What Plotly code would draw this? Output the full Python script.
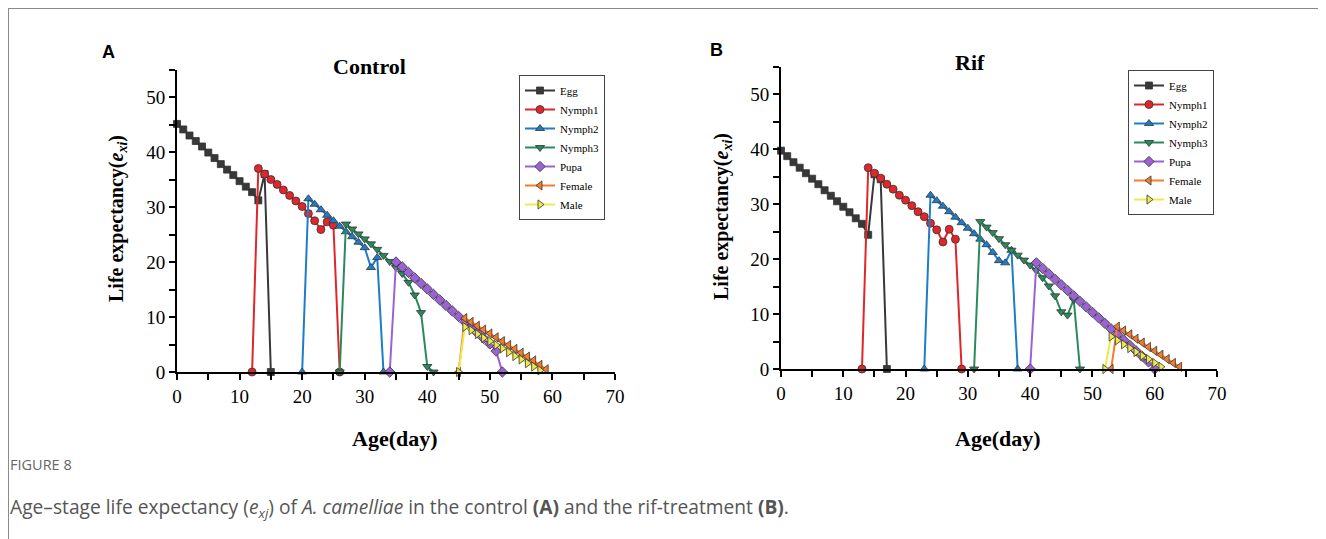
import plotly.graph_objects as go

# ---------------- data (Age in days, life expectancy e_xj) ----------------
stages = ["Egg", "Nymph1", "Nymph2", "Nymph3", "Pupa", "Female", "Male"]

# Panel A: Control
egg_days_A = [0, 1, 2, 3, 4, 5, 6, 7, 8, 9, 10, 11, 12, 13, 14, 15]
egg_A = [45.1, 44.1, 43.0, 42.0, 41.0, 39.9, 38.9, 37.8, 36.8, 35.8, 34.7, 33.7, 32.7, 31.2, 36.0, 0]
n1_days_A = [12, 13, 14, 15, 16, 17, 18, 19, 20, 21, 22, 23, 24, 25, 26]
n1_A = [0, 37.0, 36.0, 35.0, 34.1, 33.1, 32.1, 31.1, 30.1, 28.8, 27.5, 25.9, 27.3, 26.7, 0]
n2_days_A = [20, 21, 22, 23, 24, 25, 26, 27, 28, 29, 30, 31, 32, 33]
n2_A = [0, 31.5, 30.5, 29.5, 28.5, 27.5, 26.5, 25.5, 24.6, 23.6, 22.6, 19.0, 20.8, 0]
n3_days_A = [26, 27, 28, 29, 30, 31, 32, 33, 34, 35, 36, 37, 38, 39, 40, 41]
n3_A = [0, 26.9, 26.0, 25.1, 24.2, 23.3, 22.3, 21.2, 20.1, 19.0, 17.9, 16.3, 14.0, 10.8, 1.0, 0]
pupa_days_A = [34, 35, 36, 37, 38, 39, 40, 41, 42, 43, 44, 45, 46, 47, 48, 49, 50, 51, 52]
pupa_A = [0, 20.0, 19.1, 18.1, 17.1, 16.1, 15.1, 14.1, 13.1, 12.1, 11.1, 10.1, 9.1, 8.1, 7.1, 6.1, 5.1, 3.8, 0]
fem_days_A = [45, 46, 47, 48, 49, 50, 51, 52, 53, 54, 55, 56, 57, 58, 59]
fem_A = [0, 9.8, 9.1, 8.4, 7.7, 7.0, 6.3, 5.6, 4.9, 4.2, 3.5, 2.8, 2.1, 1.3, 0.5]
male_days_A = [45, 46, 47, 48, 49, 50, 51, 52, 53, 54, 55, 56, 57, 58]
male_A = [0, 8.2, 7.6, 6.9, 6.2, 5.6, 4.9, 4.3, 3.6, 2.9, 2.3, 1.6, 1.0, 0.3]

# Panel B: Rif
egg_days_B = [0, 1, 2, 3, 4, 5, 6, 7, 8, 9, 10, 11, 12, 13, 14, 15, 16, 17]
egg_B = [39.7, 38.7, 37.6, 36.6, 35.6, 34.6, 33.6, 32.5, 31.5, 30.5, 29.5, 28.5, 27.4, 26.4, 24.4, 35.4, 34.5, 0]
n1_days_B = [13, 14, 15, 16, 17, 18, 19, 20, 21, 22, 23, 24, 25, 26, 27, 28, 29]
n1_B = [0, 36.6, 35.6, 34.7, 33.6, 32.7, 31.6, 30.7, 29.7, 28.6, 27.7, 26.5, 25.3, 23.1, 25.4, 23.6, 0]
n2_days_B = [23, 24, 25, 26, 27, 28, 29, 30, 31, 32, 33, 34, 35, 36, 37, 38]
n2_B = [0, 31.6, 30.6, 29.6, 28.6, 27.6, 26.6, 25.6, 24.6, 23.6, 22.6, 21.2, 19.7, 19.3, 21.6, 0]
n3_days_B = [31, 32, 33, 34, 35, 36, 37, 38, 39, 40, 41, 42, 43, 44, 45, 46, 47, 48]
n3_B = [0, 26.8, 25.8, 24.8, 23.7, 22.6, 21.6, 20.7, 19.8, 18.9, 17.9, 16.6, 15.1, 13.3, 10.4, 9.8, 12.6, 0]
pupa_days_B = [40, 41, 42, 43, 44, 45, 46, 47, 48, 49, 50, 51, 52, 53, 54, 55, 56, 57, 58, 59, 60]
pupa_B = [0, 19.3, 18.3, 17.3, 16.3, 15.3, 14.3, 13.3, 12.3, 11.3, 10.3, 9.3, 8.3, 7.3, 6.3, 5.3, 4.3, 3.3, 2.3, 1.3, 0]
fem_days_B = [53, 54, 55, 56, 57, 58, 59, 60, 61, 62, 63, 64]
fem_B = [0, 7.7, 7.0, 6.3, 5.5, 4.8, 4.0, 3.3, 2.6, 1.8, 1.1, 0.4]
male_days_B = [52, 53, 54, 55, 56, 57, 58, 59, 60, 61]
male_B = [0, 5.9, 5.2, 4.5, 3.8, 3.1, 2.4, 1.8, 1.1, 0.4]

x_ticks = [0, 10, 20, 30, 40, 50, 60, 70]
y_ticks = [0, 10, 20, 30, 40, 50]

# ---------------- styles ----------------
colors = ["#383838", "#e0262b", "#1f7cc7", "#2a8a5c", "#9b62d6", "#f47c2c", "#efe84a"]
symbols = ["square", "circle", "triangle-up", "triangle-down", "diamond", "triangle-left", "triangle-right"]
sizes = [7, 8, 8, 8, 8, 8, 8]

# page has an 8px body margin: figure occupies window pixels 8..1326 / 8..539
OFF = 8
W, H = 1326 - OFF, 539 - OFF
SERIF = "Liberation Serif, Times New Roman, serif"
SANS = "Liberation Sans, Arial, sans-serif"
CAP = "Open Sans, Noto Sans, sans-serif"

fig = go.Figure()

panels = [
    ("A", [(egg_days_A, egg_A), (n1_days_A, n1_A), (n2_days_A, n2_A), (n3_days_A, n3_A),
           (pupa_days_A, pupa_A), (fem_days_A, fem_A), (male_days_A, male_A)], "x", "y", "legend"),
    ("B", [(egg_days_B, egg_B), (n1_days_B, n1_B), (n2_days_B, n2_B), (n3_days_B, n3_B),
           (pupa_days_B, pupa_B), (fem_days_B, fem_B), (male_days_B, male_B)], "x2", "y2", "legend2"),
]

for name, series, xa, ya, lg in panels:
    for i, (xs, ys) in enumerate(series):
        fig.add_trace(go.Scatter(
            x=xs, y=ys, name=stages[i], mode="lines+markers",
            xaxis=xa, yaxis=ya, legend=lg,
            line=dict(color=colors[i], width=2),
            marker=dict(symbol=symbols[i], size=sizes[i], color=colors[i],
                        line=dict(color="#333333", width=0.8)),
            cliponaxis=False,
        ))

def px_x(p):
    return (p - OFF) / W

def px_y(p):
    return 1 - (p - OFF) / H

axis_common = dict(
    showline=True, linecolor="black", linewidth=2, showgrid=False, zeroline=False,
    ticks="outside", ticklen=6, tickwidth=2, tickcolor="black", automargin=False,
    tickfont=dict(family=SERIF, size=19, color="black"),
    minor=dict(ticks="outside", ticklen=6, tickwidth=2, tickcolor="black", dtick=5),
)

fig.update_layout(
    width=W, height=H,
    margin=dict(l=0, r=0, t=0, b=0, pad=0, autoexpand=False),
    paper_bgcolor="white", plot_bgcolor="white",
    xaxis=dict(domain=[px_x(177), px_x(615)], range=[0, 70], tickvals=x_ticks, anchor="y", **axis_common),
    yaxis=dict(domain=[px_y(372), px_y(69.5)], range=[0, 55], tickvals=y_ticks, anchor="x", **axis_common),
    xaxis2=dict(domain=[px_x(781), px_x(1217)], range=[0, 70], tickvals=x_ticks, anchor="y2", **axis_common),
    yaxis2=dict(domain=[px_y(369), px_y(66.5)], range=[0, 55], tickvals=y_ticks, anchor="x2", **axis_common),
    legend=dict(x=px_x(519), y=px_y(75), xanchor="left", yanchor="top",
                bgcolor="white", bordercolor="#444444", borderwidth=1,
                font=dict(family=SERIF, size=11, color="black"),
                itemwidth=30, tracegroupgap=0),
    legend2=dict(x=px_x(1128), y=px_y(70), xanchor="left", yanchor="top",
                 bgcolor="white", bordercolor="#444444", borderwidth=1,
                 font=dict(family=SERIF, size=11, color="black"),
                 itemwidth=30, tracegroupgap=0),
    showlegend=True,
)

ann = []
# panel letters
ann.append(dict(text="<b>A</b>", x=px_x(108), y=px_y(52), font=dict(family=SANS, size=18, color="black")))
ann.append(dict(text="<b>B</b>", x=px_x(716), y=px_y(50), font=dict(family=SANS, size=18, color="black")))
# titles
ann.append(dict(text="<b>Control</b>", x=px_x(370), y=px_y(66), font=dict(family=SERIF, size=22, color="black")))
ann.append(dict(text="<b>Rif</b>", x=px_x(970), y=px_y(63), font=dict(family=SERIF, size=22, color="black")))
# axis titles
ytitle = "<b>Life expectancy(<i>e<sub>xi</sub></i>)</b>"
ann.append(dict(text=ytitle, x=px_x(118), y=px_y(219), textangle=-90, font=dict(family=SERIF, size=20, color="black")))
ann.append(dict(text=ytitle, x=px_x(722), y=px_y(216), textangle=-90, font=dict(family=SERIF, size=20, color="black")))
ann.append(dict(text="<b>Age(day)</b>", x=px_x(395), y=px_y(438), font=dict(family=SERIF, size=22, color="black")))
ann.append(dict(text="<b>Age(day)</b>", x=px_x(998), y=px_y(438), font=dict(family=SERIF, size=22, color="black")))
# caption
ann.append(dict(text="FIGURE 8", x=px_x(8), y=px_y(464), xanchor="left",
                font=dict(family=CAP, size=14.5, color="#666666")))
ann.append(dict(text="Age\u2013stage life expectancy (<i>e<sub>xj</sub></i>) of <i>A. camelliae</i> in the control "
                     "<b>(A)</b> and the rif-treatment <b>(B)</b>.",
                x=px_x(8), y=px_y(507), xanchor="left",
                font=dict(family=CAP, size=19.2, color="#555555")))

for a in ann:
    a.setdefault("xanchor", "center")
    a["yanchor"] = "middle"
    a["xref"] = "paper"
    a["yref"] = "paper"
    a["showarrow"] = False
fig.update_layout(annotations=ann)

# card border (top and left edges)
fig.add_shape(type="line", xref="paper", yref="paper",
              x0=0, y0=px_y(8.5), x1=1, y1=px_y(8.5),
              line=dict(color="#8a8a8a", width=1), layer="below")
fig.add_shape(type="line", xref="paper", yref="paper",
              x0=px_x(8.5), y0=px_y(8.5), x1=px_x(8.5), y1=0,
              line=dict(color="#8a8a8a", width=1), layer="below")

fig.write_html("out.html")
